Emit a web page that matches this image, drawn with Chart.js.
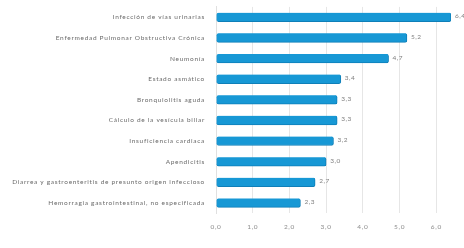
<!DOCTYPE html>
<html>
<head>
<meta charset="utf-8">
<script src="https://cdn.jsdelivr.net/npm/chart.js@4"></script>
<style>
html,body{margin:0;padding:0;background:#fff;}
#wrap{width:464px;height:248px;position:relative;}
</style>
</head>
<body>
<div id="wrap"><canvas id="c" width="464" height="248"></canvas></div>
<script>
const categories = [
  "Infección de vías urinarias",
  "Enfermedad Pulmonar Obstructiva Crónica",
  "Neumonía",
  "Estado asmático",
  "Bronquiolitis aguda",
  "Cálculo de la vesícula biliar",
  "Insuficiencia cardiaca",
  "Apendicitis",
  "Diarrea y gastroenteritis de presunto origen infeccioso",
  "Hemorragia gastrointestinal, no especificada"
];
const values = [6.4, 5.2, 4.7, 3.4, 3.3, 3.3, 3.2, 3.0, 2.7, 2.3];
const xTicks = [0, 1, 2, 3, 4, 5, 6];

const fmt = v => v.toFixed(1).replace('.', ',');

const spacing = {
  id: 'spacing',
  beforeDraw(chart) { chart.ctx.letterSpacing = '0.7px'; }
};

const valueLabels = {
  id: 'valueLabels',
  afterDatasetsDraw(chart) {
    const ctx = chart.ctx;
    const meta = chart.getDatasetMeta(0);
    ctx.save();
    ctx.letterSpacing = '0.5px';
    ctx.font = '6.5px Lato, "Liberation Sans", sans-serif';
    ctx.fillStyle = '#7f7f7f';
    ctx.textAlign = 'left';
    ctx.textBaseline = 'middle';
    meta.data.forEach((bar, i) => {
      ctx.fillText(fmt(values[i]), bar.x + 4, bar.y - 1);
    });
    ctx.restore();
  }
};

new Chart(document.getElementById('c'), {
  type: 'bar',
  data: {
    labels: categories,
    datasets: [{
      data: values,
      backgroundColor: '#1798d5',
      borderColor: '#0f7fb8',
      borderWidth: {bottom: 1, right: 1, top: 0, left: 0},
      borderRadius: 2,
      borderSkipped: false,
      barThickness: 9
    }]
  },
  options: {
    indexAxis: 'y',
    responsive: false,
    animation: false,
    layout: {padding: {top: -7, right: 13, bottom: 7, left: 0}},
    plugins: {legend: {display: false}, tooltip: {enabled: false}},
    scales: {
      x: {
        min: 0,
        max: 6.4,
        afterBuildTicks(scale) {
          scale.ticks = xTicks.map(v => ({value: v}));
        },
        grid: {color: '#e6e6e6', drawTicks: false},
        border: {display: false},
        ticks: {
          color: '#8c8c8c',
          font: {size: 6.5, family: 'Lato, "Liberation Sans", sans-serif'},
          padding: 10,
          maxRotation: 0,
          callback: v => fmt(v)
        }
      },
      y: {
        afterFit(scale) { scale.width = 216; },
        grid: {display: false},
        border: {display: true, color: '#e0e0e0'},
        ticks: {
          color: '#6a6a6a',
          font: {size: 6.5, family: 'Lato, "Liberation Sans", sans-serif'},
          padding: 3
        }
      }
    }
  },
  plugins: [spacing, valueLabels]
});
</script>
</body>
</html>
